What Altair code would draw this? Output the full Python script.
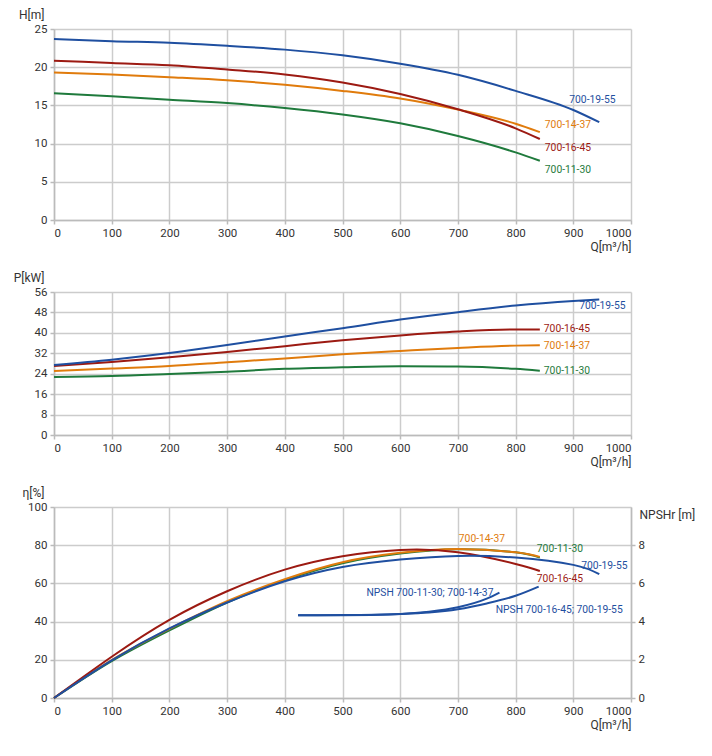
import altair as alt
import pandas as pd

# ---------------- data ----------------
MODELS = ["700-11-30", "700-14-37", "700-16-45", "700-19-55"]
COLORS = ["#1f7a3c", "#e07b0c", "#9c1a12", "#1f4fa0"]

Q_A = [0, 100, 200, 300, 400, 500, 600, 700, 800, 842]          # 11-30, 14-37, 16-45
Q_B = [0, 100, 200, 300, 400, 500, 600, 700, 800, 900, 945]     # 19-55

H_1130 = [16.6, 16.2, 15.75, 15.3, 14.65, 13.8, 12.65, 11.0, 8.85, 7.75]
H_1437 = [19.3, 19.05, 18.7, 18.3, 17.7, 16.9, 15.9, 14.45, 12.6, 11.5]
H_1645 = [20.85, 20.55, 20.25, 19.7, 19.05, 18.0, 16.5, 14.5, 12.0, 10.6]
H_1955 = [23.7, 23.4, 23.2, 22.8, 22.3, 21.55, 20.45, 19.0, 16.9, 14.4, 12.8]

P_1130 = [22.75, 23.1, 23.9, 24.8, 25.9, 26.5, 26.9, 26.8, 25.9, 25.2]
P_1437 = [25.1, 26.0, 27.0, 28.5, 30.0, 31.6, 32.9, 34.1, 35.0, 35.1]
P_1645 = [27.0, 28.6, 30.4, 32.5, 34.8, 37.1, 39.0, 40.5, 41.3, 41.3]
P_1955 = [27.4, 29.5, 32.1, 35.2, 38.6, 41.8, 45.2, 48.1, 50.7, 52.5, 53.1]

E_1130 = [0, 19.3, 35.4, 50.0, 61.7, 70.6, 75.6, 77.9, 76.3, 73.5]
E_1437 = [0, 19.9, 36.2, 50.7, 62.2, 71.1, 76.0, 78.0, 76.3, 73.9]
E_1645 = [0, 21.6, 40.9, 55.9, 67.2, 74.2, 77.5, 76.3, 70.2, 66.5]
E_1955 = [0, 19.7, 36.4, 50.0, 61.1, 68.6, 72.5, 74.4, 73.5, 69.7, 64.8]

NPSH_Q1 = [423, 500, 600, 650, 700, 750, 772]
NPSH_1 = [4.33, 4.33, 4.40, 4.52, 4.75, 5.2, 5.52]
NPSH_Q2 = [423, 500, 600, 650, 700, 750, 800, 840]
NPSH_2 = [4.33, 4.34, 4.40, 4.48, 4.65, 4.95, 5.35, 5.83]
NPSH_LABELS = ["NPSH 700-11-30; 700-14-37", "NPSH 700-16-45; 700-19-55"]
NPSH_COLOR = "#1f4fa0"

Q_TICKS = list(range(0, 1001, 100))
H_TICKS = [0, 5, 10, 15, 20, 25]
P_TICKS = [0, 8, 16, 24, 32, 40, 48, 56]
E_TICKS = [0, 20, 40, 60, 80, 100]
N_TICKS = [0, 2, 4, 6, 8]

W = 577
FONT = "Roboto"
TXT = "#333333"


def long(series_list, qs_list):
    rows = []
    for m, vals, qs in zip(MODELS, series_list, qs_list):
        for q, v in zip(qs, vals):
            rows.append({"Q": q, "v": v, "m": m})
    return pd.DataFrame(rows)


qs = [Q_A, Q_A, Q_A, Q_B]
H_df = long([H_1130, H_1437, H_1645, H_1955], qs)
P_df = long([P_1130, P_1437, P_1645, P_1955], qs)
E_df = long([E_1130, E_1437, E_1645, E_1955], qs)

color_scale = alt.Scale(domain=MODELS, range=COLORS)


def x_enc():
    return alt.X(
        "Q:Q",
        scale=alt.Scale(domain=[0, 1000], nice=False),
        axis=alt.Axis(
            values=Q_TICKS, format="d", labelOverlap=False, title="Q[m³/h]",
            titleAngle=0, titleAlign="right", titleBaseline="middle", titleX=W,
            titleY=26, titleFontWeight="normal", titleFontSize=12, titleColor=TXT,
        ),
    )


def y_enc(field, dom, ticks, title, orient="left", grid=True, titleX=-10, titleY=-15,
          align="right"):
    return alt.Y(
        field,
        scale=alt.Scale(domain=dom, nice=False, zero=True),
        axis=alt.Axis(
            values=ticks, format="d", labelOverlap=False, title=title, orient=orient,
            grid=grid, titleAngle=0, titleAlign=align, titleBaseline="middle",
            titleX=titleX, titleY=titleY, titleFontWeight="normal", titleFontSize=12,
            titleColor=TXT,
        ),
    )


def lines(df, ye, interp):
    return alt.Chart(df).mark_line(strokeWidth=2, interpolate=interp).encode(
        x=x_enc(),
        y=ye,
        color=alt.Color("m:N", scale=color_scale, legend=None),
        detail="m:N",
    )


def label(ye, q, v, text, color, dx, dy, align="left"):
    d = pd.DataFrame({ye.shorthand.split(":")[0]: [v], "Q": [q], "t": [text]})
    return alt.Chart(d).mark_text(
        align=align, baseline="middle", dx=dx, dy=dy, fontSize=10.3, font=FONT,
        color=color,
    ).encode(x=x_enc(), y=ye, text="t:N")


# ---------- Panel 1 : H ----------
yH = y_enc("v:Q", [0, 25], H_TICKS, "H[m]")
h_lines = lines(H_df, yH, "monotone")
h_labels = [
    label(yH, Q_B[-1], H_1955[-1], MODELS[3], COLORS[3], -30, -22),
    label(yH, Q_A[-1], H_1437[-1], MODELS[1], COLORS[1], 5, -7),
    label(yH, Q_A[-1], H_1645[-1], MODELS[2], COLORS[2], 5, 9),
    label(yH, Q_A[-1], H_1130[-1], MODELS[0], COLORS[0], 5, 9),
]
panel1 = alt.layer(h_lines, *h_labels).properties(width=W, height=191)

# ---------- Panel 2 : P ----------
yP = y_enc("v:Q", [0, 56], P_TICKS, "P[kW]")
p_lines = lines(P_df, yP, "monotone")
p_labels = [
    label(yP, Q_B[-1], P_1955[-1], MODELS[3], COLORS[3], -20, 7),
    label(yP, Q_A[-1], P_1645[-1], MODELS[2], COLORS[2], 4, -1),
    label(yP, Q_A[-1], P_1437[-1], MODELS[1], COLORS[1], 4, 1),
    label(yP, Q_A[-1], P_1130[-1], MODELS[0], COLORS[0], 4, 0),
]
panel2 = alt.layer(p_lines, *p_labels).properties(width=W, height=143)

# ---------- Panel 3 : efficiency + NPSH ----------
yE = y_enc("v:Q", [0, 100], E_TICKS, "η[%]")
e_lines = lines(E_df, yE, "natural")
e_labels = [
    label(yE, Q_A[-1], E_1437[-1], MODELS[1], COLORS[1], -81, -18),
    label(yE, Q_A[-1], E_1130[-1], MODELS[0], COLORS[0], -3, -9),
    label(yE, Q_B[-1], E_1955[-1], MODELS[3], COLORS[3], -18, -8),
    label(yE, Q_A[-1], E_1645[-1], MODELS[2], COLORS[2], -3, 8),
]
eta = alt.layer(e_lines, *e_labels)

n_rows = [{"Q": q, "n": v, "s": NPSH_LABELS[0]} for q, v in zip(NPSH_Q1, NPSH_1)]
n_rows += [{"Q": q, "n": v, "s": NPSH_LABELS[1]} for q, v in zip(NPSH_Q2, NPSH_2)]
N_df = pd.DataFrame(n_rows)

yN = y_enc("n:Q", [0, 10], N_TICKS, "NPSHr [m]", orient="right", grid=False,
           titleX=8, titleY=7, align="left")
n_lines = alt.Chart(N_df).mark_line(strokeWidth=2, interpolate="monotone",
                                     color=NPSH_COLOR).encode(
    x=x_enc(), y=yN, detail="s:N",
)

npsh = alt.layer(
    n_lines,
    label(yN, NPSH_Q1[-1], NPSH_1[-1], NPSH_LABELS[0], NPSH_COLOR, -6, 0, "right"),
    label(yN, NPSH_Q2[-1], NPSH_2[-1], NPSH_LABELS[1], NPSH_COLOR, -43, 23, "left"),
)

panel3 = alt.layer(eta, npsh).resolve_scale(y="independent").properties(
    width=W, height=191)

chart = alt.vconcat(panel1, panel2, panel3, spacing=72, bounds="flush").configure(
    font=FONT, padding={"left": 5, "top": 0, "right": 5, "bottom": 5},
).configure_view(stroke=None).configure_axis(
    labelFont=FONT, labelFontSize=11.5, labelColor=TXT, titleFont=FONT,
    gridColor="#cccccc", gridWidth=1.5, domainColor="#bbbbbb", domainWidth=1.5,
    tickColor="#bbbbbb", tickSize=4, tickWidth=1.5, labelPadding=3,
)

chart.save("out.html", embed_options={"renderer": "svg", "actions": False})
